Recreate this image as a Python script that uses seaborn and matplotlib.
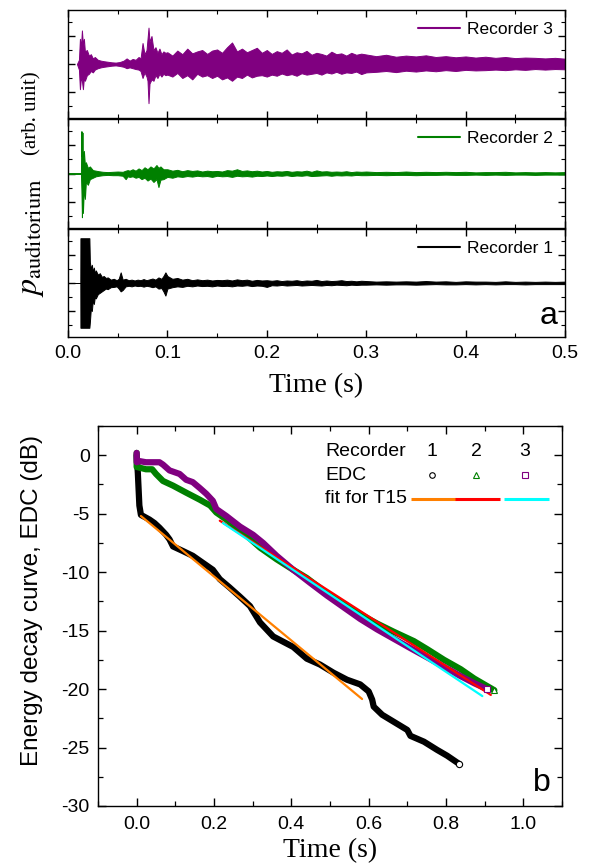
import numpy as np
import pandas as pd
import matplotlib
matplotlib.use("Agg")
import matplotlib.pyplot as plt
from matplotlib.lines import Line2D
from matplotlib.ticker import MultipleLocator, FormatStrFormatter
import seaborn as sns

# ---------------- panel a: waveform envelopes (arb. unit)
# shared time grid after the direct sound
t_mid = [0.100, 0.105, 0.110, 0.115, 0.120, 0.125, 0.130, 0.135, 0.140, 0.145,
         0.150, 0.155, 0.160, 0.165, 0.170, 0.175, 0.180, 0.185, 0.190, 0.195,
         0.200, 0.205, 0.210, 0.215, 0.220, 0.225, 0.230, 0.235, 0.240, 0.245,
         0.250, 0.255, 0.260, 0.265, 0.270, 0.275, 0.280, 0.285, 0.290, 0.295]
t_late = [0.30, 0.31, 0.32, 0.33, 0.34, 0.35, 0.36, 0.37, 0.38, 0.39,
          0.40, 0.41, 0.42, 0.43, 0.44, 0.45, 0.46, 0.47, 0.48, 0.49, 0.50]

# recorder 3
rec3_t0 = [0.009, 0.011, 0.012, 0.013, 0.014, 0.015, 0.016, 0.017, 0.019, 0.021,
           0.023, 0.025, 0.027, 0.030, 0.033, 0.036, 0.040, 0.044, 0.048, 0.052,
           0.056, 0.059, 0.062, 0.065, 0.068, 0.071, 0.073, 0.075, 0.077, 0.079,
           0.080, 0.081, 0.082, 0.084, 0.086, 0.088, 0.090, 0.092, 0.094, 0.096,
           0.098]
rec3_hi = [0.0, 0.15, 0.9, 0.6, 1.2, 0.7, 0.9, 0.45, 0.5, 0.3,
           0.35, 0.2, 0.25, 0.15, 0.12, 0.1, 0.08, 0.06, 0.05, 0.07,
           0.12, 0.2, 0.12, 0.18, 0.15, 0.25, 0.2, 0.75, 0.35, 0.5,
           0.9, 1.3, 0.8, 1.0, 0.5, 0.6, 0.4, 0.55, 0.35, 0.45,
           0.4,
           0.42, 0.30, 0.48, 0.35, 0.55, 0.38, 0.45, 0.50, 0.36, 0.48,
           0.52, 0.40, 0.60, 0.77, 0.45, 0.55, 0.42, 0.50, 0.58, 0.40,
           0.50, 0.36, 0.46, 0.40, 0.52, 0.34, 0.42, 0.38, 0.47, 0.33,
           0.40, 0.36, 0.30, 0.44, 0.35, 0.38, 0.30, 0.40, 0.33, 0.37,
           0.34, 0.28, 0.33, 0.26, 0.30, 0.27, 0.31, 0.25, 0.28, 0.24,
           0.27, 0.23, 0.26, 0.22, 0.25, 0.21, 0.23, 0.22, 0.20, 0.22, 0.19]
rec3_lo = [0.0, -0.2, -0.9, -0.5, -0.6, -0.9, -0.5, -0.6, -0.4, -0.35,
           -0.25, -0.3, -0.2, -0.15, -0.12, -0.1, -0.08, -0.06, -0.05, -0.07,
           -0.1, -0.15, -0.12, -0.15, -0.18, -0.2, -0.25, -0.5, -0.3, -0.45,
           -0.6, -1.4, -0.7, -0.55, -0.6, -0.4, -0.5, -0.35, -0.45, -0.35,
           -0.4,
           -0.38, -0.45, -0.32, -0.50, -0.40, -0.55, -0.35, -0.45, -0.40, -0.50,
           -0.42, -0.55, -0.48, -0.60, -0.45, -0.50, -0.38, -0.48, -0.42, -0.40,
           -0.45, -0.38, -0.42, -0.34, -0.40, -0.36, -0.42, -0.33, -0.38, -0.35,
           -0.32, -0.38, -0.30, -0.34, -0.28, -0.35, -0.30, -0.32, -0.27, -0.36,
           -0.30, -0.28, -0.25, -0.29, -0.24, -0.27, -0.23, -0.26, -0.22, -0.25,
           -0.21, -0.23, -0.22, -0.20, -0.22, -0.19, -0.21, -0.18, -0.20, -0.18, -0.19]

# recorder 2
rec2_t0 = [0.000, 0.013, 0.0135, 0.014, 0.0145, 0.015, 0.016, 0.017, 0.018, 0.020,
           0.022, 0.025, 0.028, 0.031, 0.035, 0.040, 0.045, 0.050, 0.055, 0.058,
           0.060, 0.062, 0.065, 0.068, 0.071, 0.074, 0.077, 0.080, 0.083, 0.086,
           0.089, 0.091, 0.093, 0.096]
rec2_hi = [0.0, 0.0, 1.5, 0.6, 1.45, 0.5, 0.8, 0.3, 0.4, 0.2,
           0.25, 0.12, 0.1, 0.08, 0.06, 0.05, 0.06, 0.07, 0.06, 0.1,
           0.12, 0.1, 0.15, 0.1, 0.18, 0.12, 0.22, 0.15, 0.25, 0.18,
           0.3, 0.2, 0.25, 0.15,
           0.15, 0.10, 0.13, 0.08, 0.12, 0.09, 0.11, 0.07, 0.10, 0.08,
           0.09, 0.07, 0.12, 0.10, 0.15, 0.09, 0.11, 0.08, 0.10, 0.07,
           0.09, 0.06, 0.08, 0.07, 0.09, 0.06, 0.08, 0.07, 0.10, 0.06,
           0.11, 0.07, 0.08, 0.06, 0.07, 0.06, 0.08, 0.05, 0.07, 0.06,
           0.07, 0.05, 0.06, 0.05, 0.07, 0.05, 0.06, 0.05, 0.06, 0.05,
           0.06, 0.04, 0.05, 0.05, 0.06, 0.04, 0.05, 0.04, 0.05, 0.04, 0.05]
rec2_lo = [0.0, 0.0, -0.6, -1.55, -0.8, -1.4, -0.5, -0.9, -0.3, -0.4,
           -0.2, -0.15, -0.1, -0.08, -0.06, -0.05, -0.06, -0.06, -0.08, -0.2,
           -0.1, -0.12, -0.1, -0.15, -0.12, -0.2, -0.15, -0.25, -0.18, -0.3,
           -0.2, -0.48, -0.22, -0.2,
           -0.12, -0.15, -0.10, -0.12, -0.09, -0.11, -0.08, -0.10, -0.09, -0.12,
           -0.08, -0.10, -0.09, -0.12, -0.08, -0.10, -0.09, -0.11, -0.08, -0.09,
           -0.07, -0.09, -0.07, -0.08, -0.06, -0.09, -0.07, -0.08, -0.06, -0.09,
           -0.08, -0.07, -0.06, -0.08, -0.06, -0.07, -0.06, -0.07, -0.05, -0.06,
           -0.06, -0.05, -0.06, -0.05, -0.05, -0.06, -0.05, -0.05, -0.04, -0.05,
           -0.05, -0.04, -0.05, -0.04, -0.05, -0.04, -0.04, -0.05, -0.04, -0.04, -0.04]

# recorder 1
rec1_t0 = [0.000, 0.0124, 0.0125, 0.0215, 0.022, 0.023, 0.024, 0.025, 0.026, 0.027,
           0.028, 0.030, 0.032, 0.034, 0.036, 0.038, 0.040, 0.043, 0.046, 0.049,
           0.051, 0.053, 0.055, 0.058, 0.061, 0.064, 0.067, 0.070, 0.073, 0.076,
           0.079, 0.082, 0.085, 0.088, 0.091, 0.094, 0.096, 0.098]
rec1_hi = [0.0, 0.0, 1.6, 1.6, 0.75, 0.5, 0.65, 0.4, 0.55, 0.35,
           0.45, 0.3, 0.35, 0.22, 0.25, 0.18, 0.2, 0.12, 0.15, 0.1,
           0.15, 0.38, 0.12, 0.15, 0.1, 0.12, 0.09, 0.12, 0.1, 0.14,
           0.1, 0.13, 0.16, 0.12, 0.2, 0.15, 0.25, 0.38,
           0.25, 0.15, 0.18, 0.12, 0.15, 0.10, 0.13, 0.10, 0.12, 0.09,
           0.11, 0.10, 0.12, 0.09, 0.13, 0.10, 0.12, 0.08, 0.11, 0.09,
           0.10, 0.08, 0.10, 0.07, 0.09, 0.08, 0.10, 0.07, 0.09, 0.08,
           0.11, 0.07, 0.09, 0.07, 0.08, 0.10, 0.07, 0.08, 0.06, 0.08,
           0.07, 0.05, 0.06, 0.05, 0.06, 0.05, 0.07, 0.05, 0.06, 0.04,
           0.06, 0.05, 0.05, 0.04, 0.06, 0.04, 0.05, 0.04, 0.05, 0.04, 0.05]
rec1_lo = [0.0, 0.0, -1.6, -1.6, -1.4, -0.9, -1.0, -0.6, -0.75, -0.5,
           -0.55, -0.4, -0.35, -0.3, -0.25, -0.2, -0.22, -0.15, -0.14, -0.12,
           -0.2, -0.3, -0.25, -0.12, -0.1, -0.12, -0.09, -0.11, -0.1, -0.13,
           -0.1, -0.12, -0.15, -0.12, -0.2, -0.18, -0.3, -0.45,
           -0.20, -0.15, -0.12, -0.14, -0.10, -0.12, -0.09, -0.11, -0.10, -0.12,
           -0.09, -0.11, -0.10, -0.12, -0.09, -0.10, -0.08, -0.11, -0.09, -0.10,
           -0.14, -0.08, -0.09, -0.07, -0.09, -0.08, -0.07, -0.09, -0.08, -0.07,
           -0.08, -0.09, -0.07, -0.08, -0.06, -0.07, -0.08, -0.06, -0.07, -0.06,
           -0.06, -0.05, -0.06, -0.05, -0.05, -0.06, -0.05, -0.04, -0.05, -0.05,
           -0.04, -0.05, -0.04, -0.05, -0.04, -0.04, -0.05, -0.04, -0.04, -0.04, -0.04]

# ---------------- panel b: energy decay curves (dB) and T15 fits
edc1_t = [0.0, 0.003, 0.007, 0.011, 0.033, 0.046, 0.059, 0.076, 0.085, 0.094,
          0.12, 0.145, 0.171, 0.197, 0.215, 0.24, 0.267, 0.293, 0.319, 0.353,
          0.405, 0.44, 0.474, 0.509, 0.544, 0.578, 0.6, 0.609, 0.613, 0.635,
          0.665, 0.7, 0.708, 0.743, 0.777, 0.803, 0.834]
edc1_db = [0.0, -1.5, -4.3, -5.1, -5.5, -5.8, -6.2, -6.8, -7.2, -7.8,
           -8.2, -8.6, -9.2, -9.8, -10.6, -11.3, -12.1, -12.9, -14.3, -15.5,
           -16.4, -17.4, -17.9, -18.6, -19.2, -19.6, -20.2, -20.9, -21.5, -22.2,
           -22.8, -23.5, -24.0, -24.5, -25.2, -25.7, -26.4]

edc2_t = [0.0, 0.0, 0.024, 0.04, 0.05, 0.068, 0.094, 0.128, 0.163, 0.19,
          0.206, 0.232, 0.275, 0.319, 0.362, 0.405, 0.44, 0.492, 0.535, 0.578,
          0.622, 0.665, 0.717, 0.752, 0.795, 0.838, 0.873, 0.899, 0.925]
edc2_db = [0.2, -1.0, -1.2, -1.2, -1.6, -2.2, -2.6, -3.2, -3.8, -4.3,
           -4.9, -5.5, -6.6, -7.9, -8.9, -9.8, -10.5, -11.8, -12.7, -13.6,
           -14.4, -15.1, -15.9, -16.6, -17.5, -18.3, -19.1, -19.6, -20.1]

edc3_t = [0.0, 0.0, 0.007, 0.024, 0.059, 0.068, 0.085, 0.111, 0.128, 0.145,
          0.163, 0.18, 0.197, 0.206, 0.232, 0.267, 0.301, 0.327, 0.362, 0.405,
          0.448, 0.492, 0.535, 0.578, 0.622, 0.665, 0.708, 0.752, 0.795, 0.838,
          0.873, 0.899, 0.905]
edc3_db = [0.2, -0.6, -0.5, -0.6, -0.6, -0.8, -1.3, -1.6, -2.1, -2.3,
           -2.8, -3.3, -3.9, -4.6, -5.2, -6.1, -6.8, -7.5, -8.6, -9.8,
           -10.9, -12.0, -13.0, -14.0, -14.9, -15.7, -16.5, -17.3, -18.1, -18.9,
           -19.5, -19.9, -20.0]

fit1_t = [0.011, 0.583]
fit1_db = [-5.2, -20.85]
fit2_t = [0.215, 0.916]
fit2_db = [-5.6, -20.5]
fit3_t = [0.223, 0.894]
fit3_db = [-5.8, -20.6]

recorders = ["1", "2", "3"]
edc_colors = ["black", "#008000", "#800080"]
fit_colors = ["#ff8000", "#ff0000", "#00ffff"]
edc_markers = ["o", "^", "s"]

# ---------------- style
sns.set_theme(style="ticks")
plt.rcParams["font.family"] = ["Liberation Sans", "DejaVu Sans"]
plt.rcParams["mathtext.fontset"] = "stix"
plt.rcParams["axes.unicode_minus"] = False
plt.rcParams["axes.linewidth"] = 1.0
for key in ["text.color", "axes.labelcolor", "xtick.color", "ytick.color",
            "axes.edgecolor"]:
    plt.rcParams[key] = "black"
serif = ["Liberation Serif", "DejaVu Serif"]

W, H = 594, 867
fig = plt.figure(figsize=(W / 100, H / 100), dpi=100)


def px_rect(left, top, right, bottom):
    return [left / W, 1 - bottom / H, (right - left) / W, (bottom - top) / H]


# ---------------- panel a
waves = [
    (rec3_t0 + t_mid + t_late, rec3_lo, rec3_hi, "#800080", "Recorder 3"),
    (rec2_t0 + t_mid + t_late, rec2_lo, rec2_hi, "#008000", "Recorder 2"),
    (rec1_t0 + t_mid + t_late, rec1_lo, rec1_hi, "black", "Recorder 1"),
]
edges = [(10, 118), (119, 228), (229, 337)]
axes_a = []
for (t, lo, hi, col, lab), (top, bot) in zip(waves, edges):
    ax = fig.add_axes(px_rect(68, top, 565, bot))
    ax.fill_between(t, lo, hi, color=col, lw=0.7, edgecolor=col)
    ax.set_xlim(0, 0.5)
    ax.set_ylim(-1.93, 1.93)
    ax.xaxis.set_major_locator(MultipleLocator(0.1))
    ax.xaxis.set_minor_locator(MultipleLocator(0.05))
    ax.yaxis.set_major_locator(MultipleLocator(1))
    ax.yaxis.set_minor_locator(MultipleLocator(0.5))
    ax.tick_params(which="both", direction="in", top=True, right=True,
                   labelleft=False, labelbottom=False)
    ax.tick_params(which="major", length=5, width=1.0)
    ax.tick_params(which="minor", length=3, width=0.8)
    ax.legend(handles=[Line2D([], [], color=col, lw=1.5)], labels=[lab],
              loc="upper right", frameon=False, fontsize=12.5,
              handlelength=2.4, borderaxespad=0.3, handletextpad=0.4)
    axes_a.append(ax)

ax_a = axes_a[-1]
ax_a.tick_params(labelbottom=True, labelsize=14, pad=6)
ax_a.xaxis.set_major_formatter(FormatStrFormatter("%.1f"))
ax_a.set_xlabel("Time (s)", family=serif, fontsize=20, labelpad=8)
ax_a.text(0.985, 0.06, "a", transform=ax_a.transAxes, ha="right",
          va="bottom", fontsize=23)

fig.text(31 / W, 1 - 297 / H, r"$p_{\mathrm{auditorium}}$", rotation=90,
         ha="center", va="bottom", fontsize=23)
fig.text(32 / W, 1 - 113 / H, "(arb. unit)", rotation=90, ha="center",
         va="center", family=serif, fontsize=15)

# ---------------- panel b
ax_b = fig.add_axes(px_rect(98, 426, 562, 806))
edcs = [(edc1_t, edc1_db), (edc2_t, edc2_db), (edc3_t, edc3_db)]
fits = [(fit1_t, fit1_db), (fit2_t, fit2_db), (fit3_t, fit3_db)]

for rec, (t, db), col, mk in zip(recorders, edcs, edc_colors, edc_markers):
    df = pd.DataFrame({"t": t, "db": db})
    sns.lineplot(data=df, x="t", y="db", ax=ax_b, color=col, lw=4.5,
                 estimator=None, sort=False, solid_capstyle="round",
                 solid_joinstyle="round")
    ax_b.plot(t[-1], db[-1], marker=mk, ms=4.5, mfc="white", mec=col,
              mew=0.8, ls="none", zorder=5)

for (t, db), col in zip(fits, fit_colors):
    df = pd.DataFrame({"t": t, "db": db})
    sns.lineplot(data=df, x="t", y="db", ax=ax_b, color=col, lw=1.6,
                 estimator=None, sort=False)

ax_b.set_xlim(-0.1, 1.1)
ax_b.set_ylim(-30, 2.5)
ax_b.xaxis.set_major_locator(MultipleLocator(0.2))
ax_b.xaxis.set_minor_locator(MultipleLocator(0.1))
ax_b.yaxis.set_major_locator(MultipleLocator(5))
ax_b.yaxis.set_minor_locator(MultipleLocator(2.5))
ax_b.xaxis.set_major_formatter(FormatStrFormatter("%.1f"))
ax_b.tick_params(which="both", direction="in", top=True, right=True)
ax_b.tick_params(which="major", length=6, width=1.0, pad=6)
ax_b.tick_params(which="minor", length=3.5, width=0.9)
ax_b.tick_params(axis="x", labelsize=14, pad=7)
ax_b.tick_params(axis="y", labelsize=14)
ax_b.set_xlabel("Time (s)", family=serif, fontsize=20, labelpad=4)
ax_b.set_ylabel("")
fig.text(32 / W, 1 - 601 / H, "Energy decay curve, EDC (dB)", rotation=90,
         ha="center", va="center", fontsize=17.5)
ax_b.text(0.975, 0.02, "b", transform=ax_b.transAxes, ha="right",
          va="bottom", fontsize=23)

# table-style legend
col_x = [0.720, 0.815, 0.920]
row_y = [0.932, 0.871, 0.808]
ax_b.text(0.489, row_y[0], "Recorder", transform=ax_b.transAxes,
          va="center", fontsize=14)
ax_b.text(0.489, row_y[1], "EDC", transform=ax_b.transAxes,
          va="center", fontsize=14)
ax_b.text(0.489, row_y[2], "fit for T15", transform=ax_b.transAxes,
          va="center", fontsize=14)
for cx, rec, ec, mk, fc in zip(col_x, recorders, edc_colors, edc_markers,
                               fit_colors):
    ax_b.text(cx, row_y[0], rec, transform=ax_b.transAxes, ha="center",
              va="center", fontsize=14)
    ax_b.plot([cx], [row_y[1]], marker=mk, ms=4, mfc="white", mec=ec,
              mew=0.8, transform=ax_b.transAxes, ls="none")
    ax_b.plot([cx - 0.046, cx + 0.052], [row_y[2], row_y[2]], color=fc,
              lw=2.2, transform=ax_b.transAxes, solid_capstyle="butt")

fig.savefig("out.png", dpi=100)
